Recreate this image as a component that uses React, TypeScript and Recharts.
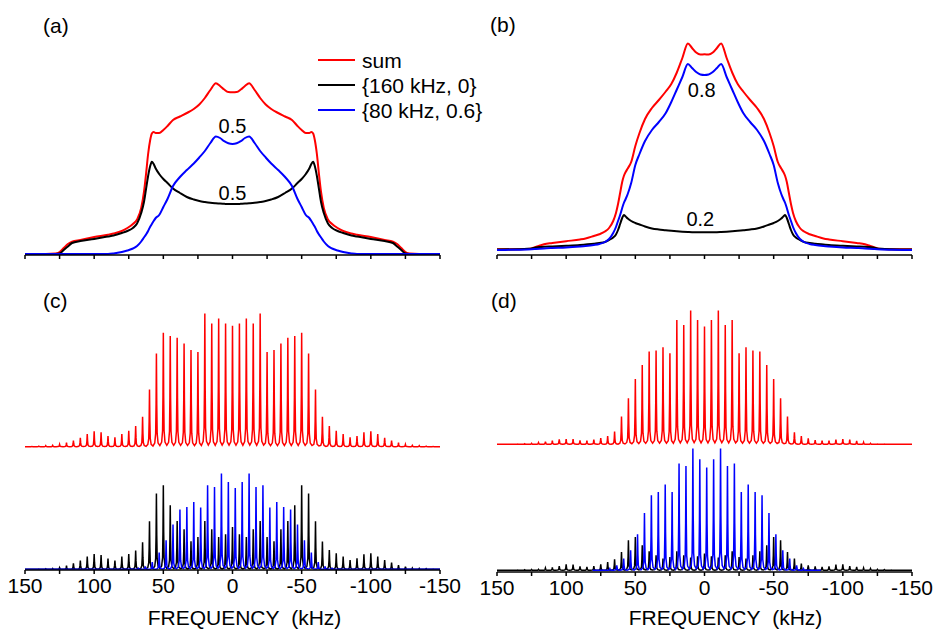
import React from 'react';
import { LineChart, Line, XAxis, YAxis, Legend, ReferenceDot } from 'recharts';

const FONT = '"Liberation Sans", Arial, Helvetica, sans-serif';

const X_TICKS = [150, 125, 100, 75, 50, 25, 0, -25, -50, -75, -100, -125, -150];
const SERIES_NAMES = ['sum', '{160 kHz, 0}', '{80 kHz, 0.6}'];
const PANEL_LABELS = ['(a)', '(b)', '(c)', '(d)'];

// static powder patterns (a) and (b)
const STATIC_FREQ = [150, 135, 128, 125, 122, 119, 116, 110, 100, 90, 86, 80, 76, 72, 69, 66, 64, 62.5, 61, 59.5, 58.3, 57, 55.5, 53, 50, 47, 43, 38, 33, 28, 24, 20, 16, 12, 9, 6, 3, 0, -3, -6, -9, -12, -16, -20, -24, -28, -33, -38, -43, -47, -50, -53, -55.5, -57, -58.3, -59.5, -61, -62.5, -64, -66, -69, -72, -76, -80, -86, -90, -100, -110, -116, -119, -122, -125, -128, -135, -150];

const A_SUM = [0, 0, 0.5, 2, 6, 10, 12.3, 14, 17, 19.3, 20.5, 23, 26, 30, 34.5, 46, 62, 80, 100, 114, 120.5, 122, 121, 121, 124, 128, 134, 137.5, 141, 145, 149.5, 156, 164, 170.7, 168, 164.5, 162, 161.7, 162, 164.5, 168, 170.7, 164, 156, 149.5, 145, 141, 137.5, 134, 128, 124, 121, 121, 122, 120.5, 114, 100, 80, 62, 46, 34.5, 30, 26, 23, 20.5, 19.3, 17, 14, 12.3, 10, 6, 2, 0.5, 0, 0];
const A_160 = [0, 0, 0, 0.5, 4, 7.5, 11, 13, 15, 17.5, 18.5, 21, 23, 26, 30.5, 41, 52, 65, 78, 88, 92.3, 90, 85.5, 80, 75, 71, 65.5, 61, 57, 54.5, 53, 52, 51.2, 50.7, 50.4, 50.2, 50, 50, 50, 50.2, 50.4, 50.7, 51.2, 52, 53, 54.5, 57, 61, 65.5, 71, 75, 80, 85.5, 90, 92.3, 88, 78, 65, 52, 41, 30.5, 26, 23, 21, 18.5, 17.5, 15, 13, 11, 7.5, 4, 0.5, 0, 0, 0];
const A_80 = [0, 0, 0, 0, 0, 0, 0, 0, 0, 0, 0.5, 2, 3.5, 5.5, 8, 12.5, 16.5, 19.5, 23, 27.3, 30, 33, 36, 39, 47, 55, 68, 77, 84, 90.5, 96.5, 103, 111, 117.5, 116, 112.8, 110.7, 110, 110.7, 112.8, 116, 117.5, 111, 103, 96.5, 90.5, 84, 77, 68, 55, 47, 39, 36, 33, 30, 27.3, 23, 19.5, 16.5, 12.5, 8, 5.5, 3.5, 2, 0.5, 0, 0, 0, 0, 0, 0, 0, 0, 0, 0];

const B_SUM = [0.7, 0.8, 1, 1.5, 3, 4.5, 5.8, 7, 8.8, 10.5, 11.5, 14, 15.8, 18.5, 22, 29, 37, 46, 57, 68, 74, 78, 81.5, 88, 104, 117, 131, 142, 150, 158.5, 166, 177.5, 192, 206.5, 202, 197.5, 195.5, 195.7, 195.5, 197.5, 202, 206.5, 192, 177.5, 166, 158.5, 150, 142, 131, 117, 104, 88, 81.5, 78, 74, 68, 57, 46, 37, 29, 22, 18.5, 15.8, 14, 11.5, 10.5, 8.8, 7, 5.8, 4.5, 3, 1.5, 1, 0.8, 0.7];
const B_160 = [0.5, 0.8, 1.2, 1.6, 2.5, 3, 3.3, 3.6, 4.2, 5, 5.5, 6.3, 7, 8, 10, 12.5, 15.5, 20, 26, 32, 35, 33.5, 31.5, 29, 27, 25.5, 23.5, 21.5, 20.5, 19.8, 19.2, 18.7, 18.3, 18, 17.8, 17.7, 17.7, 17.7, 17.7, 17.7, 17.8, 18, 18.3, 18.7, 19.2, 19.8, 20.5, 21.5, 23.5, 25.5, 27, 29, 31.5, 33.5, 35, 32, 26, 20, 15.5, 12.5, 10, 8, 7, 6.3, 5.5, 5, 4.2, 3.6, 3.3, 3, 2.5, 1.6, 1.2, 0.8, 0.5];
const B_80 = [0, 0.3, 0.5, 0.7, 1, 1.3, 1.6, 2, 2.5, 3.5, 4, 5, 6, 8, 11, 17, 23, 29, 35, 42, 47, 51, 56, 67, 85, 96, 109, 120, 128, 137, 148, 160.5, 173, 186, 182, 178, 175.5, 175, 175.5, 178, 182, 186, 173, 160.5, 148, 137, 128, 120, 109, 96, 85, 67, 56, 51, 47, 42, 35, 29, 23, 17, 11, 8, 6, 5, 4, 3.5, 2.5, 2, 1.6, 1.3, 1, 0.7, 0.5, 0.3, 0];

// MAS sideband patterns (c) and (d): sideband positions and peak heights
const SB_FREQ = [150, 145, 140, 135, 130, 125, 120, 115, 110, 105, 100, 95, 90, 85, 80, 75, 70, 65, 60, 55, 50, 45, 40, 35, 30, 25, 20, 15, 10, 5, 0, -5, -10, -15, -20, -25, -30, -35, -40, -45, -50, -55, -60, -65, -70, -75, -80, -85, -90, -95, -100, -105, -110, -115, -120, -125, -130, -135, -140, -145, -150];

const C_SUM = [0, 0.2, 0.5, 1, 1.3, 2.3, 4, 6, 9, 12.7, 15.3, 14.3, 10.7, 9.3, 12.7, 16, 20.7, 30, 57.3, 93.3, 114, 110.7, 109, 103.3, 96.7, 94.7, 133.3, 123.3, 128.3, 123.3, 121, 123.3, 128.3, 123.3, 133.3, 94.7, 96.7, 103.3, 109, 110.7, 114, 93.3, 57.3, 30, 20.7, 16, 12.7, 9.3, 10.7, 14.3, 15.3, 12.7, 9, 6, 4, 2.3, 1.3, 1, 0.5, 0.2, 0];
const C_160 = [0, 0, 0.3, 0.5, 0.8, 1.7, 3.7, 6, 8.7, 12.7, 15.3, 14.3, 10.7, 8.7, 12.7, 15.3, 18.7, 27, 48, 75.7, 84, 64, 48.3, 40, 28, 32.3, 48.3, 40, 32.3, 35, 42.3, 35, 32.3, 40, 48.3, 32.3, 28, 40, 48.3, 64, 84, 75.7, 48, 27.7, 19.3, 16, 12.7, 9.3, 11, 15, 16, 12.7, 9.3, 6.7, 4.3, 2.7, 1.3, 1, 0.7, 0.3, 0];
const C_80 = [0, 0, 0, 0, 0, 0, 0, 0, 0, 0, 0, 0, 0, 0, 0, 0.3, 1, 3, 7.3, 16.7, 29, 44.7, 59.7, 62.3, 67.3, 61.7, 84, 82.3, 95.7, 87.3, 81.3, 87.3, 95.7, 82.3, 84, 61.7, 67.3, 62.3, 59.7, 44.7, 29, 16.7, 7.3, 3, 1, 0.3, 0, 0, 0, 0, 0, 0, 0, 0, 0, 0, 0, 0, 0, 0, 0];

const D_SUM = [0, 0, 0, 0.3, 0.5, 1, 1.7, 2.7, 3.7, 5, 5.3, 5.3, 4, 3.7, 4.7, 6.3, 8.3, 12.7, 27.7, 46, 65.3, 79.3, 92.7, 93.7, 97, 91, 124.3, 119.3, 133.7, 124.3, 117.7, 124.3, 133.7, 119.3, 124.3, 91, 97, 93.7, 92.7, 79.3, 65.3, 46, 27.7, 12, 8.3, 6, 4.3, 3.7, 3.7, 4.7, 5.3, 4.7, 3.3, 2, 1, 0.3, 0.2, 0, 0, 0, 0];
const D_160 = [0, 0, 0, 0.3, 0.5, 0.8, 1, 2.3, 3, 4.3, 6, 5.7, 4, 3.3, 4.3, 6, 8.3, 11, 18.3, 30, 33.3, 25, 19, 15, 11.7, 13.3, 19, 15, 12.7, 14, 16.7, 14, 12.7, 15, 19, 13.3, 11.7, 15, 19, 25, 33.3, 30, 18.3, 11.7, 6.7, 5, 4, 3.3, 4, 5.7, 6, 4.3, 3.3, 2.3, 1.7, 1, 0.7, 0.3, 0, 0, 0];
const D_80 = [null, null, null, null, null, null, null, null, null, null, null, null, null, null, 0, 0.3, 1.5, 5, 11.7, 20, 36, 57.3, 75, 78.3, 85.7, 78.3, 106.7, 104.3, 121.7, 111, 102.7, 111, 121.7, 104.3, 106.7, 78.3, 85.7, 78.3, 75, 57.3, 36, 20, 11.7, 5, 1.5, 0.3, 0, null, null, null, null, null, null, null, null, null, null, null, null, null, null];

// frequency offset of the blue sideband family and vertical stacking of the red trace
const C_80_SHIFT = -2.0;
const D_80_SHIFT = -1.6;
const C_SUM_BASE = 122.6;
const D_SUM_BASE = 126;

// line shape of one sideband (offset in kHz, fraction of peak height)
const SPIKE: [number, number][] = [[-2.5, 0.012], [-1.2, 0.04], [-0.55, 0.14], [-0.25, 0.45], [0, 1], [0.25, 0.45], [0.55, 0.14], [1.2, 0.04]];

function spikeTrace(freqs: number[], heights: (number | null)[], shift: number, base: number) {
  const order = freqs.map((_, i) => i).filter((i) => heights[i] != null).sort((a, b) => freqs[a] - freqs[b]);
  const pts: { f: number; v: number }[] = [];
  order.forEach((i) => {
    const c = freqs[i] + shift;
    const h = heights[i] as number;
    SPIKE.forEach(([d, k]) => pts.push({ f: c + d, v: base + h * k }));
  });
  if (order.length) {
    const last = order[order.length - 1];
    pts.push({ f: freqs[last] + shift + 2.5, v: base + (heights[last] as number) * 0.012 });
  }
  return pts;
}

const RED = '#ff0000';
const BLACK = '#000000';
const BLUE = '#0000ff';

const axisStyle = { stroke: '#000', strokeWidth: 1.5 };
const fmtMajor = (v: number) => (v % 50 === 0 ? String(v) : '');

const renderLegend = (props: any) => {
  const payload = (props.payload || []).slice().sort(
    (a: any, b: any) => SERIES_NAMES.indexOf(a.value) - SERIES_NAMES.indexOf(b.value)
  );
  return (
    <div style={{ fontFamily: FONT, fontSize: 21, color: '#000' }}>
      {payload.map((p: any, i: number) => (
        <div key={i} style={{ display: 'flex', alignItems: 'center', height: 25, lineHeight: '25px', whiteSpace: 'nowrap' }}>
          <div style={{ width: 37, height: 2, background: p.color, marginRight: 7 }} />
          <span>{p.value}</span>
        </div>
      ))}
    </div>
  );
};

const noteLabel = (v: string) => ({ value: v, position: 'center' as const, fontSize: 20, fill: '#000', fontFamily: FONT });

export default function App() {
  const aData = STATIC_FREQ.map((f, i) => ({ f, sum: A_SUM[i], s160: A_160[i], s80: A_80[i] }));
  const bData = STATIC_FREQ.map((f, i) => ({ f, sum: B_SUM[i], s160: B_160[i], s80: B_80[i] }));

  const cSum = spikeTrace(SB_FREQ, C_SUM, 0, C_SUM_BASE);
  const c160 = spikeTrace(SB_FREQ, C_160, 0, 0);
  const c80 = spikeTrace(SB_FREQ, C_80, C_80_SHIFT, 0);
  const dSum = spikeTrace(SB_FREQ, D_SUM, 0, D_SUM_BASE);
  const d160 = spikeTrace(SB_FREQ, D_160, 0, 0);
  const d80 = spikeTrace(SB_FREQ, D_80, D_80_SHIFT, 0);

  const topXAxis = (
    <XAxis
      type="number"
      dataKey="f"
      domain={[-150, 150]}
      reversed
      allowDataOverflow
      ticks={X_TICKS}
      interval={0}
      tickFormatter={() => ''}
      tickSize={4}
      axisLine={axisStyle}
      tickLine={axisStyle}
      height={30}
    />
  );

  const bottomXAxis = (h: number, dx: number) => (
    <XAxis
      type="number"
      dataKey="f"
      domain={[-150, 150]}
      reversed
      allowDataOverflow
      ticks={X_TICKS}
      interval={0}
      tickFormatter={fmtMajor}
      tickSize={4}
      tickMargin={4}
      tick={{ fontSize: 21, fill: '#000', fontFamily: FONT }}
      axisLine={axisStyle}
      tickLine={axisStyle}
      height={h}
      label={{ value: 'FREQUENCY\u00A0 (kHz)', position: 'insideBottom', offset: 0, dx, fontSize: 21, fill: '#000', fontFamily: FONT }}
    />
  );

  return (
    <div style={{ position: 'absolute', left: 0, top: 0, width: 934, height: 630, background: '#fff', fontFamily: FONT }}>
      {/* (a) */}
      <div style={{ position: 'absolute', left: 0, top: 0 }}>
        <LineChart width={470} height={290} data={aData} margin={{ top: 30, right: 30, bottom: 5, left: 25 }}>
          {topXAxis}
          <YAxis hide type="number" domain={[-1, 224]} allowDataOverflow />
          <Line type="monotone" dataKey="sum" name={SERIES_NAMES[0]} stroke={RED} strokeWidth={2} dot={false} isAnimationActive={false} />
          <Line type="monotone" dataKey="s160" name={SERIES_NAMES[1]} stroke={BLACK} strokeWidth={2} dot={false} isAnimationActive={false} />
          <Line type="monotone" dataKey="s80" name={SERIES_NAMES[2]} stroke={BLUE} strokeWidth={2} dot={false} isAnimationActive={false} />
          <ReferenceDot x={0} y={128} r={0} fill="none" stroke="none" label={noteLabel('0.5')} />
          <ReferenceDot x={0} y={61} r={0} fill="none" stroke="none" label={noteLabel('0.5')} />
          <Legend layout="vertical" align="center" verticalAlign="middle" content={renderLegend} wrapperStyle={{ left: 318, top: 47.5, width: 200 }} />
        </LineChart>
      </div>

      {/* (b) */}
      <div style={{ position: 'absolute', left: 470, top: 0 }}>
        <LineChart width={464} height={290} data={bData} margin={{ top: 30, right: 22, bottom: 5, left: 27 }}>
          {topXAxis}
          <YAxis hide type="number" domain={[-5, 220]} allowDataOverflow />
          <Line type="monotone" dataKey="sum" name={SERIES_NAMES[0]} stroke={RED} strokeWidth={2} dot={false} isAnimationActive={false} />
          <Line type="monotone" dataKey="s160" name={SERIES_NAMES[1]} stroke={BLACK} strokeWidth={2} dot={false} isAnimationActive={false} />
          <Line type="monotone" dataKey="s80" name={SERIES_NAMES[2]} stroke={BLUE} strokeWidth={2} dot={false} isAnimationActive={false} />
          <ReferenceDot x={2} y={160} r={0} fill="none" stroke="none" label={noteLabel('0.8')} />
          <ReferenceDot x={3} y={31} r={0} fill="none" stroke="none" label={noteLabel('0.2')} />
        </LineChart>
      </div>

      {/* (c) */}
      <div style={{ position: 'absolute', left: 0, top: 290 }}>
        <LineChart width={470} height={340} margin={{ top: 10, right: 30, bottom: 5, left: 25 }}>
          {bottomXAxis(55, 12)}
          <YAxis hide type="number" domain={[-0.7, 269.3]} allowDataOverflow />
          <Line data={cSum} type="linear" dataKey="v" name={SERIES_NAMES[0]} stroke={RED} strokeWidth={1.5} dot={false} isAnimationActive={false} />
          <Line data={c160} type="linear" dataKey="v" name={SERIES_NAMES[1]} stroke={BLACK} strokeWidth={1.5} dot={false} isAnimationActive={false} />
          <Line data={c80} type="linear" dataKey="v" name={SERIES_NAMES[2]} stroke={BLUE} strokeWidth={1.5} dot={false} isAnimationActive={false} />
        </LineChart>
      </div>

      {/* (d) */}
      <div style={{ position: 'absolute', left: 470, top: 290 }}>
        <LineChart width={464} height={340} margin={{ top: 10, right: 22, bottom: 5, left: 27 }}>
          {bottomXAxis(53, 21)}
          <YAxis hide type="number" domain={[-1.7, 270.3]} allowDataOverflow />
          <Line data={dSum} type="linear" dataKey="v" name={SERIES_NAMES[0]} stroke={RED} strokeWidth={1.5} dot={false} isAnimationActive={false} />
          <Line data={d160} type="linear" dataKey="v" name={SERIES_NAMES[1]} stroke={BLACK} strokeWidth={1.5} dot={false} isAnimationActive={false} />
          <Line data={d80} type="linear" dataKey="v" name={SERIES_NAMES[2]} stroke={BLUE} strokeWidth={1.5} dot={false} isAnimationActive={false} />
        </LineChart>
      </div>

      <svg width={934} height={630} style={{ position: 'absolute', left: 0, top: 0, pointerEvents: 'none' }}>
        <g fontFamily={FONT} fontSize={21} fill="#000">
          <text x={43} y={33}>{PANEL_LABELS[0]}</text>
          <text x={490} y={32}>{PANEL_LABELS[1]}</text>
          <text x={43} y={308}>{PANEL_LABELS[2]}</text>
          <text x={491} y={308}>{PANEL_LABELS[3]}</text>
        </g>
      </svg>
    </div>
  );
}
